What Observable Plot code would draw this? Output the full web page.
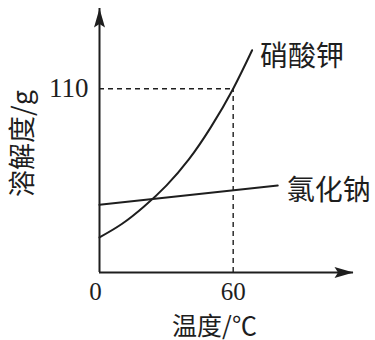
<!DOCTYPE html>
<html>
<head>
<meta charset="utf-8">
<script src="https://cdn.jsdelivr.net/npm/d3@7"></script>
<script src="https://cdn.jsdelivr.net/npm/@observablehq/plot@0.6"></script>
<style>
  html, body { margin: 0; padding: 0; background: #fff; }
  #chart svg { display: block; }
</style>
</head>
<body>
<div id="chart"></div>
<script>
// Data
const kno3Temp = [0, 10, 20, 30, 40, 50, 60, 68.5];
const kno3Sol  = [21, 29, 39.5, 52, 67.5, 87, 110, 133];
const naclTemp = [0, 80];
const naclSol  = [40.5, 52];
const seriesNames = ["硝酸钾", "氯化钠"];
const xTicks = [0, 60];
const yTicks = [110];
const markTemp = 60;
const markSol = 110;
const xMax = 114;
const yMax = 158;
const xLabel = "温度/℃";
const yLabel = "溶解度/g";

const kno3 = kno3Temp.map((t, i) => ({t, s: kno3Sol[i]}));
const nacl = naclTemp.map((t, i) => ({t, s: naclSol[i]}));
const kno3End = [{name: seriesNames[0], t: kno3Temp.at(-1), s: kno3Sol.at(-1)}];
const naclEnd = [{name: seriesNames[1], t: naclTemp.at(-1), s: naclSol.at(-1)}];

const ink = "#1e1e1e";
const serif = "'Liberation Serif', 'DejaVu Serif', serif";
const cjk = "'Noto Sans CJK SC', 'Noto Sans', sans-serif";

const arrowHead = {
  draw(ctx) {
    ctx.moveTo(0, 0);
    ctx.lineTo(5.5, 19);
    ctx.lineTo(0, 15.5);
    ctx.lineTo(-5.5, 19);
    ctx.closePath();
  }
};

const chart = Plot.plot({
  width: 375,
  height: 340,
  marginLeft: 99,
  marginRight: 22,
  marginTop: 8,
  marginBottom: 68,
  x: {domain: [0, xMax], axis: null},
  y: {domain: [0, yMax], axis: null},
  style: {background: "#fff", color: ink},
  marks: [
    // dashed guide lines
    Plot.ruleY([markSol], {x1: 0, x2: markTemp, stroke: ink, strokeWidth: 1.4, strokeDasharray: "5,4"}),
    Plot.ruleX([markTemp], {y1: 0, y2: markSol, stroke: ink, strokeWidth: 1.4, strokeDasharray: "5,4"}),
    // axes
    Plot.ruleY([0], {stroke: ink, strokeWidth: 2}),
    Plot.ruleX([0], {stroke: ink, strokeWidth: 2}),
    Plot.dot([{t: xMax, s: 0}], {x: "t", y: "s", symbol: arrowHead, rotate: 90, fill: ink, stroke: null}),
    Plot.dot([{t: 0, s: yMax}], {x: "t", y: "s", symbol: arrowHead, rotate: 0, fill: ink, stroke: null}),
    // curves
    Plot.line(kno3, {x: "t", y: "s", curve: "natural", stroke: ink, strokeWidth: 2}),
    Plot.line(nacl, {x: "t", y: "s", stroke: ink, strokeWidth: 2}),
    // series labels
    Plot.text(kno3End, {x: "t", y: "s", text: "name", dx: 8, dy: 7, textAnchor: "start",
      fontSize: 28, fontFamily: cjk, fill: ink}),
    Plot.text(naclEnd, {x: "t", y: "s", text: "name", dx: 9, dy: 5, textAnchor: "start",
      fontSize: 28, fontFamily: cjk, fill: ink}),
    // tick labels
    Plot.text(xTicks.filter(d => d === 0), {x: d => d, y: 0, text: d => String(d), dy: 19, dx: -4,
      fontSize: 25, fontFamily: serif, fill: ink}),
    Plot.text(xTicks.filter(d => d !== 0), {x: d => d, y: 0, text: d => String(d), dy: 19,
      fontSize: 25, fontFamily: serif, fill: ink}),
    Plot.text(yTicks, {x: 0, y: d => d, text: d => String(d), dx: -11, textAnchor: "end",
      fontSize: 27, fontFamily: serif, fill: ink}),
    // axis titles
    Plot.text([xLabel], {frameAnchor: "bottom", text: d => d, dx: -12, dy: 54, lineAnchor: "middle",
      textAnchor: "middle", fontSize: 25, fontFamily: cjk, fill: ink}),
    Plot.text([yLabel], {frameAnchor: "left", text: d => d, dx: -76, dy: 3, rotate: -90,
      textAnchor: "middle", lineAnchor: "middle", fontSize: 27, fontFamily: cjk, fill: ink})
  ]
});
document.getElementById("chart").append(chart);
</script>
</body>
</html>
